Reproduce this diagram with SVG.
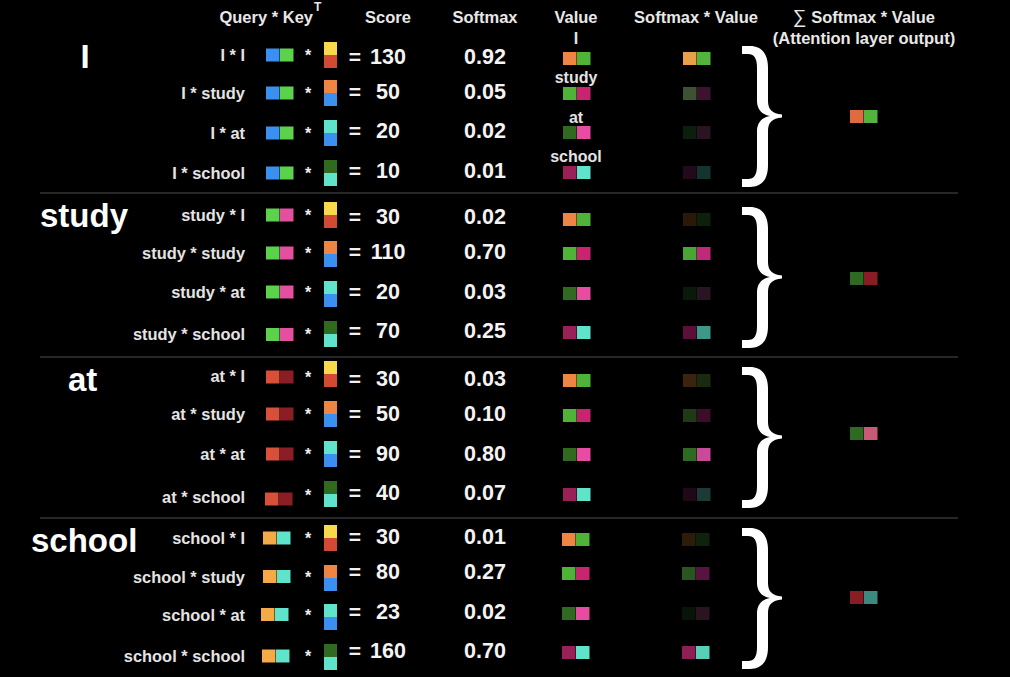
<svg xmlns="http://www.w3.org/2000/svg" width="1010" height="677" viewBox="0 0 1010 677">
<style>
text{font-family:"Liberation Sans",Arial,Helvetica,sans-serif;font-weight:bold;}
.hd{font-size:16.5px;fill:#e8e8e8;text-anchor:middle;}
.big{font-size:33px;fill:#ffffff;}
.lbl{font-size:16.4px;fill:#e4e4e4;text-anchor:end;}
.vl{font-size:16px;fill:#e4e4e4;text-anchor:middle;}
.op{font-size:16px;fill:#f0f0f0;text-anchor:middle;}
.eq{font-size:21px;fill:#f0f0f0;text-anchor:middle;}
.num{font-size:21.5px;fill:#f4f4f4;text-anchor:middle;}
.sep{stroke:#353535;stroke-width:1.5;}
.brace{fill:#ffffff;}
.blue{fill:#3b8ff0}.lg{fill:#5cd14c}.pk{fill:#e54fa0}.tom{fill:#d9503a}.dr{fill:#8b1d24}
.gold{fill:#f5aa48}.aq{fill:#5fe3ca}.yel{fill:#f9d94c}.kr{fill:#d24a34}.or{fill:#ef8542}
.dg{fill:#2f6a20}.vg{fill:#4fb338}.mg{fill:#c8246f}.vp{fill:#e84ca2}.mr{fill:#9a2058}
</style>
<defs>
<path id="br" class="brace" d="M742,0 L750,0 C762,0 768,8 768,22 L768,55 C768,63 772,68 782,68.5 L782,71.5 C772,72 768,77 768,85 L768,119 C768,133 762,141 750,141 L742,141 L742,133 L748,133 C754,133 757,129 757,119 L757,85 C757,77 762,71 770,70 C762,69 757,63 757,55 L757,22 C757,12 754,8 748,8 L742,8 Z"/>
</defs>
<rect x="0" y="0" width="1010" height="677" fill="#000000"/>

<g id="header">
<text class="hd" x="313" y="23" style="text-anchor:end">Query * Key</text>
<text x="314" y="11" style="font-size:12px;fill:#e8e8e8">T</text>
<text class="hd" x="388" y="23">Score</text>
<text class="hd" x="485" y="23">Softmax</text>
<text class="hd" x="576" y="23">Value</text>
<text class="hd" x="696" y="23">Softmax * Value</text>
<text class="hd" x="864" y="23"><tspan style="font-weight:normal;font-size:19px">∑</tspan> Softmax * Value</text>
<text class="hd" x="864" y="44">(Attention layer output)</text>
</g>

<g id="separators">
<line class="sep" x1="40" y1="193" x2="958" y2="193"/>
<line class="sep" x1="40" y1="357" x2="958" y2="357"/>
<line class="sep" x1="40" y1="518" x2="958" y2="518"/>
</g>

<g id="section-I">
<text class="big" x="85" y="68" style="text-anchor:middle">I</text>
<text class="vl" x="576" y="44">I</text>
<text class="vl" x="576" y="83">study</text>
<text class="vl" x="576" y="123">at</text>
<text class="vl" x="576" y="162">school</text>
<g id="s1r1">
<text class="lbl" x="245" y="61">I * I</text>
<rect class="blue" x="266" y="48.5" width="13.5" height="13"/><rect class="lg" x="280" y="48.5" width="13.5" height="13"/>
<text class="op" x="308" y="61">*</text>
<rect class="yel" x="324" y="42" width="13" height="13"/><rect class="kr" x="324" y="55" width="13" height="13"/>
<text class="eq" x="355" y="63.5">=</text>
<text class="num" x="388" y="63.5">130</text>
<text class="num" x="485" y="63.5">0.92</text>
<rect class="or" x="563" y="52" width="13.5" height="13"/><rect class="vg" x="577" y="52" width="13.5" height="13"/>
<rect fill="#e9a04a" x="683" y="52" width="13.5" height="13"/><rect fill="#52b43c" x="697" y="52" width="13.5" height="13"/>
</g>
<g id="s1r2">
<text class="lbl" x="245" y="99">I * study</text>
<rect class="blue" x="266" y="86.5" width="13.5" height="13"/><rect class="lg" x="280" y="86.5" width="13.5" height="13"/>
<text class="op" x="308" y="99">*</text>
<rect class="or" x="324" y="80" width="13" height="13"/><rect class="blue" x="324" y="93" width="13" height="13"/>
<text class="eq" x="355" y="98.5">=</text>
<text class="num" x="388" y="98.5">50</text>
<text class="num" x="485" y="98.5">0.05</text>
<rect class="vg" x="563" y="87" width="13.5" height="13"/><rect class="mg" x="577" y="87" width="13.5" height="13"/>
<rect fill="#3d5233" x="683" y="87" width="13.5" height="13"/><rect fill="#3d1230" x="697" y="87" width="13.5" height="13"/>
</g>
<g id="s1r3">
<text class="lbl" x="245" y="139">I * at</text>
<rect class="blue" x="266" y="126.5" width="13.5" height="13"/><rect class="lg" x="280" y="126.5" width="13.5" height="13"/>
<text class="op" x="308" y="139">*</text>
<rect class="aq" x="324" y="120" width="13" height="13"/><rect class="blue" x="324" y="133" width="13" height="13"/>
<text class="eq" x="355" y="137.5">=</text>
<text class="num" x="388" y="137.5">20</text>
<text class="num" x="485" y="137.5">0.02</text>
<rect class="dg" x="563" y="126" width="13.5" height="13"/><rect class="vp" x="577" y="126" width="13.5" height="13"/>
<rect fill="#0c1f0c" x="683" y="126" width="13.5" height="13"/><rect fill="#2a1422" x="697" y="126" width="13.5" height="13"/>
</g>
<g id="s1r4">
<text class="lbl" x="245" y="179">I * school</text>
<rect class="blue" x="266" y="166.5" width="13.5" height="13"/><rect class="lg" x="280" y="166.5" width="13.5" height="13"/>
<text class="op" x="308" y="179">*</text>
<rect class="dg" x="324" y="160" width="13" height="13"/><rect class="aq" x="324" y="173" width="13" height="13"/>
<text class="eq" x="355" y="177.5">=</text>
<text class="num" x="388" y="177.5">10</text>
<text class="num" x="485" y="177.5">0.01</text>
<rect class="mr" x="563" y="166" width="13.5" height="13"/><rect class="aq" x="577" y="166" width="13.5" height="13"/>
<rect fill="#220a1c" x="683" y="166" width="13.5" height="13"/><rect fill="#163330" x="697" y="166" width="13.5" height="13"/>
</g>
<use href="#br" transform="translate(0,46)"/>
<rect fill="#e06a42" x="850" y="110" width="13.5" height="13"/><rect fill="#52b43c" x="864" y="110" width="13.5" height="13"/>
</g>

<g id="section-study">
<text class="big" x="40" y="227">study</text>
<g id="s2r1">
<text class="lbl" x="245" y="221">study * I</text>
<rect class="lg" x="266" y="208.5" width="13.5" height="13"/><rect class="pk" x="280" y="208.5" width="13.5" height="13"/>
<text class="op" x="308" y="221">*</text>
<rect class="yel" x="324" y="202" width="13" height="13"/><rect class="kr" x="324" y="215" width="13" height="13"/>
<text class="eq" x="355" y="224">=</text>
<text class="num" x="388" y="224">30</text>
<text class="num" x="485" y="224">0.02</text>
<rect class="or" x="563" y="213" width="13.5" height="13"/><rect class="vg" x="577" y="213" width="13.5" height="13"/>
<rect fill="#2a1808" x="683" y="213" width="13.5" height="13"/><rect fill="#0c200c" x="697" y="213" width="13.5" height="13"/>
</g>
<g id="s2r2">
<text class="lbl" x="245" y="259">study * study</text>
<rect class="lg" x="266" y="246.5" width="13.5" height="13"/><rect class="pk" x="280" y="246.5" width="13.5" height="13"/>
<text class="op" x="308" y="259">*</text>
<rect class="or" x="324" y="241" width="13" height="13"/><rect class="blue" x="324" y="254" width="13" height="13"/>
<text class="eq" x="355" y="258.5">=</text>
<text class="num" x="388" y="258.5">110</text>
<text class="num" x="485" y="258.5">0.70</text>
<rect class="vg" x="563" y="247" width="13.5" height="13"/><rect class="mg" x="577" y="247" width="13.5" height="13"/>
<rect fill="#4aa634" x="683" y="247" width="13.5" height="13"/><rect fill="#c0287a" x="697" y="247" width="13.5" height="13"/>
</g>
<g id="s2r3">
<text class="lbl" x="245" y="298">study * at</text>
<rect class="lg" x="266" y="285.5" width="13.5" height="13"/><rect class="pk" x="280" y="285.5" width="13.5" height="13"/>
<text class="op" x="308" y="298">*</text>
<rect class="aq" x="324" y="281" width="13" height="13"/><rect class="blue" x="324" y="294" width="13" height="13"/>
<text class="eq" x="355" y="298.5">=</text>
<text class="num" x="388" y="298.5">20</text>
<text class="num" x="485" y="298.5">0.03</text>
<rect class="dg" x="563" y="287" width="13.5" height="13"/><rect class="vp" x="577" y="287" width="13.5" height="13"/>
<rect fill="#0a1a0a" x="683" y="287" width="13.5" height="13"/><rect fill="#2a1424" x="697" y="287" width="13.5" height="13"/>
</g>
<g id="s2r4">
<text class="lbl" x="245" y="340">study * school</text>
<rect class="lg" x="266" y="328" width="13.5" height="13"/><rect class="pk" x="280" y="328" width="13.5" height="13"/>
<text class="op" x="308" y="340">*</text>
<rect class="dg" x="324" y="321" width="13" height="13"/><rect class="aq" x="324" y="334" width="13" height="13"/>
<text class="eq" x="355" y="337.5">=</text>
<text class="num" x="388" y="337.5">70</text>
<text class="num" x="485" y="337.5">0.25</text>
<rect class="mr" x="563" y="326" width="13.5" height="13"/><rect class="aq" x="577" y="326" width="13.5" height="13"/>
<rect fill="#5a1038" x="683" y="326" width="13.5" height="13"/><rect fill="#3e9888" x="697" y="326" width="13.5" height="13"/>
</g>
<use href="#br" transform="translate(0,207)"/>
<rect fill="#2e6a22" x="850" y="272" width="13.5" height="13"/><rect fill="#8a1c26" x="864" y="272" width="13.5" height="13"/>
</g>

<g id="section-at">
<text class="big" x="68" y="391">at</text>
<g id="s3r1">
<text class="lbl" x="245" y="382">at * I</text>
<rect class="tom" x="266" y="370.5" width="13.5" height="13"/><rect class="dr" x="280" y="370.5" width="13.5" height="13"/>
<text class="op" x="308" y="383">*</text>
<rect class="yel" x="324" y="361" width="13" height="13"/><rect class="kr" x="324" y="374" width="13" height="13"/>
<text class="eq" x="355" y="385.5">=</text>
<text class="num" x="388" y="385.5">30</text>
<text class="num" x="485" y="385.5">0.03</text>
<rect class="or" x="563" y="374" width="13.5" height="13"/><rect class="vg" x="577" y="374" width="13.5" height="13"/>
<rect fill="#3a2410" x="683" y="374" width="13.5" height="13"/><rect fill="#1a2a10" x="697" y="374" width="13.5" height="13"/>
</g>
<g id="s3r2">
<text class="lbl" x="245" y="420">at * study</text>
<rect class="tom" x="266" y="407.5" width="13.5" height="13"/><rect class="dr" x="280" y="407.5" width="13.5" height="13"/>
<text class="op" x="308" y="420">*</text>
<rect class="or" x="324" y="401" width="13" height="13"/><rect class="blue" x="324" y="414" width="13" height="13"/>
<text class="eq" x="355" y="420.5">=</text>
<text class="num" x="388" y="420.5">50</text>
<text class="num" x="485" y="420.5">0.10</text>
<rect class="vg" x="563" y="409" width="13.5" height="13"/><rect class="mg" x="577" y="409" width="13.5" height="13"/>
<rect fill="#1e3a16" x="683" y="409" width="13.5" height="13"/><rect fill="#3c0c28" x="697" y="409" width="13.5" height="13"/>
</g>
<g id="s3r3">
<text class="lbl" x="245" y="460">at * at</text>
<rect class="tom" x="266" y="447.5" width="13.5" height="13"/><rect class="dr" x="280" y="447.5" width="13.5" height="13"/>
<text class="op" x="308" y="460">*</text>
<rect class="aq" x="324" y="441" width="13" height="13"/><rect class="blue" x="324" y="454" width="13" height="13"/>
<text class="eq" x="355" y="460.5">=</text>
<text class="num" x="388" y="460.5">90</text>
<text class="num" x="485" y="460.5">0.80</text>
<rect class="dg" x="563" y="448" width="13.5" height="13"/><rect class="vp" x="577" y="448" width="13.5" height="13"/>
<rect fill="#2e6a22" x="683" y="448" width="13.5" height="13"/><rect fill="#c84a98" x="697" y="448" width="13.5" height="13"/>
</g>
<g id="s3r4">
<text class="lbl" x="245" y="503">at * school</text>
<rect class="tom" x="265" y="492.5" width="13.5" height="13"/><rect class="dr" x="279" y="492.5" width="13.5" height="13"/>
<text class="op" x="308" y="501">*</text>
<rect class="dg" x="324" y="481" width="13" height="13"/><rect class="aq" x="324" y="494" width="13" height="13"/>
<text class="eq" x="355" y="499.5">=</text>
<text class="num" x="388" y="499.5">40</text>
<text class="num" x="485" y="499.5">0.07</text>
<rect class="mr" x="563" y="488" width="13.5" height="13"/><rect class="aq" x="577" y="488" width="13.5" height="13"/>
<rect fill="#200818" x="683" y="488" width="13.5" height="13"/><rect fill="#1e3a36" x="697" y="488" width="13.5" height="13"/>
</g>
<use href="#br" transform="translate(0,367)"/>
<rect fill="#2e6a22" x="850" y="427" width="13.5" height="13"/><rect fill="#c85a78" x="864" y="427" width="13.5" height="13"/>
</g>

<g id="section-school">
<text class="big" x="31" y="552">school</text>
<g id="s4r1">
<text class="lbl" x="245" y="544">school * I</text>
<rect class="gold" x="263" y="531.5" width="13.5" height="13"/><rect class="aq" x="277" y="531.5" width="13.5" height="13"/>
<text class="op" x="308" y="544">*</text>
<rect class="yel" x="324" y="525" width="13" height="13"/><rect class="kr" x="324" y="538" width="13" height="13"/>
<text class="eq" x="355" y="544">=</text>
<text class="num" x="388" y="544">30</text>
<text class="num" x="485" y="544">0.01</text>
<rect class="or" x="562" y="533" width="13.5" height="13"/><rect class="vg" x="576" y="533" width="13.5" height="13"/>
<rect fill="#2e1c0a" x="682" y="533" width="13.5" height="13"/><rect fill="#0e220c" x="696" y="533" width="13.5" height="13"/>
</g>
<g id="s4r2">
<text class="lbl" x="245" y="583">school * study</text>
<rect class="gold" x="263" y="570" width="13.5" height="13"/><rect class="aq" x="277" y="570" width="13.5" height="13"/>
<text class="op" x="308" y="583">*</text>
<rect class="or" x="324" y="565" width="13" height="13"/><rect class="blue" x="324" y="578" width="13" height="13"/>
<text class="eq" x="355" y="578.5">=</text>
<text class="num" x="388" y="578.5">80</text>
<text class="num" x="485" y="578.5">0.27</text>
<rect class="vg" x="562" y="567" width="13.5" height="13"/><rect class="mg" x="576" y="567" width="13.5" height="13"/>
<rect fill="#2a5420" x="682" y="567" width="13.5" height="13"/><rect fill="#5a1240" x="696" y="567" width="13.5" height="13"/>
</g>
<g id="s4r3">
<text class="lbl" x="245" y="621">school * at</text>
<rect class="gold" x="261" y="608" width="13.5" height="13"/><rect class="aq" x="275" y="608" width="13.5" height="13"/>
<text class="op" x="308" y="621">*</text>
<rect class="aq" x="324" y="604" width="13" height="13"/><rect class="blue" x="324" y="617" width="13" height="13"/>
<text class="eq" x="355" y="618.5">=</text>
<text class="num" x="388" y="618.5">23</text>
<text class="num" x="485" y="618.5">0.02</text>
<rect class="dg" x="562" y="607" width="13.5" height="13"/><rect class="vp" x="576" y="607" width="13.5" height="13"/>
<rect fill="#081408" x="682" y="607" width="13.5" height="13"/><rect fill="#2a1422" x="696" y="607" width="13.5" height="13"/>
</g>
<g id="s4r4">
<text class="lbl" x="245" y="662">school * school</text>
<rect class="gold" x="262" y="649.5" width="13.5" height="13"/><rect class="aq" x="276" y="649.5" width="13.5" height="13"/>
<text class="op" x="308" y="662">*</text>
<rect class="dg" x="324" y="644" width="13" height="13"/><rect class="aq" x="324" y="657" width="13" height="13"/>
<text class="eq" x="355" y="657.5">=</text>
<text class="num" x="388" y="657.5">160</text>
<text class="num" x="485" y="657.5">0.70</text>
<rect class="mr" x="562" y="646" width="13.5" height="13"/><rect class="aq" x="576" y="646" width="13.5" height="13"/>
<rect fill="#8e1e54" x="682" y="646" width="13.5" height="13"/><rect fill="#58d0b8" x="696" y="646" width="13.5" height="13"/>
</g>
<use href="#br" transform="translate(0,528)"/>
<rect fill="#8a1c26" x="850" y="591" width="13.5" height="13"/><rect fill="#3a8a80" x="864" y="591" width="13.5" height="13"/>
</g>
</svg>
